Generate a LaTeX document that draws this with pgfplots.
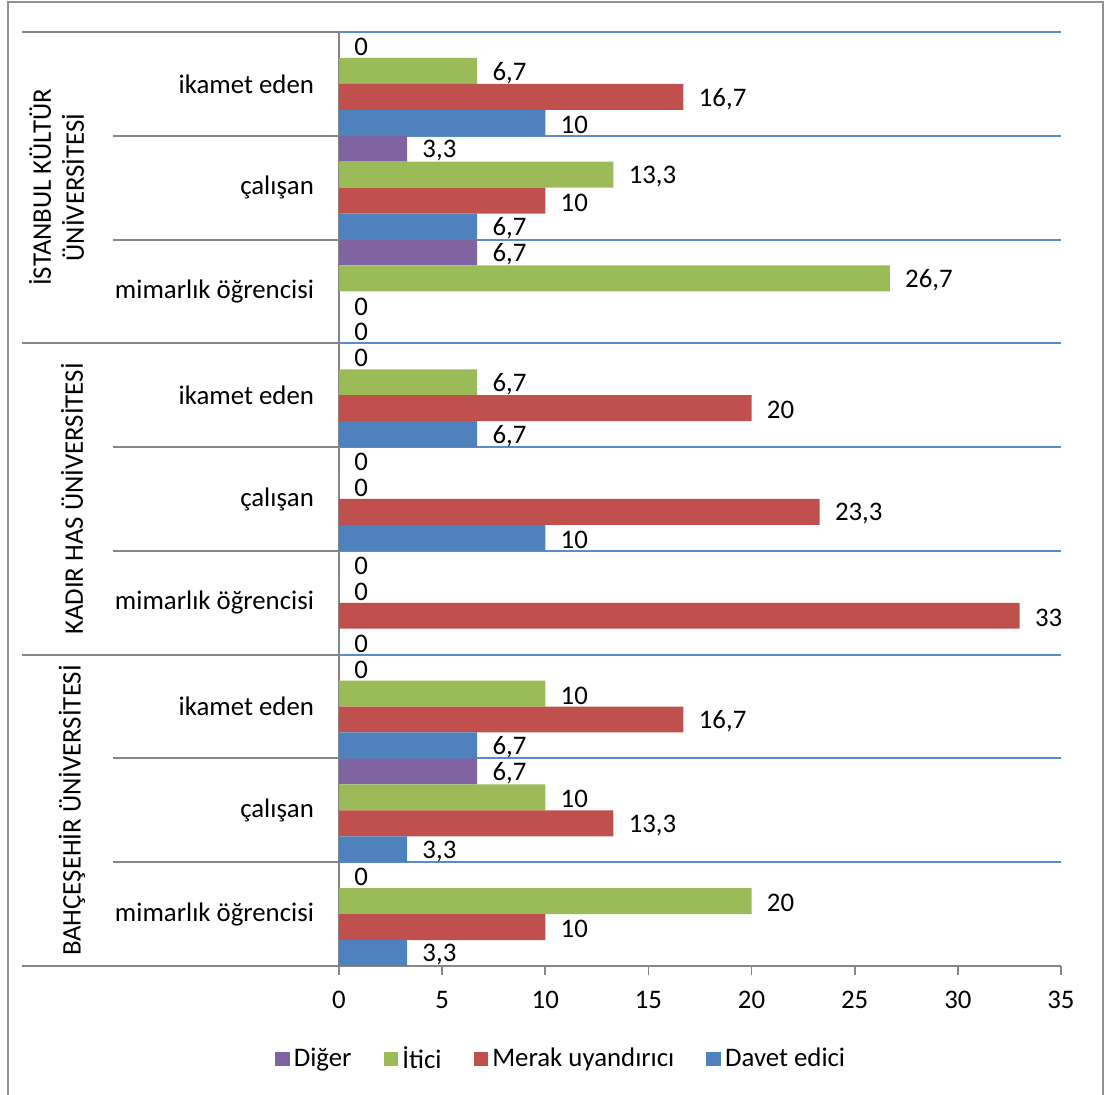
\documentclass[border=0pt]{standalone}
\usepackage{pgfplots}
\pgfplotsset{compat=1.18}
\usepackage{fontspec}
\setmainfont{Carlito}
\definecolor{cDav}{HTML}{4F81BD}
\definecolor{cMer}{HTML}{C0504D}
\definecolor{cIti}{HTML}{9BBB59}
\definecolor{cDig}{HTML}{8064A2}
\definecolor{cGrid}{HTML}{5B8BC8}
\definecolor{cAx}{HTML}{868686}
\newcommand{\cf}{\fontsize{13.4}{16.5}\selectfont}
\begin{document}
\begin{tikzpicture}
\begin{axis}[
  at={(0,0)}, anchor=south west,
  scale only axis, width=361pt, height=467pt,
  xbar, bar width=0.25,
  xmin=0, xmax=35, ymin=-0.5, ymax=8.5,
  axis x line=bottom, axis y line=left,
  axis line style={cAx, line width=1pt, -},
  x axis line style={-}, y axis line style={-},
  xtick={0,5,...,35},
  tick align=outside,
  major tick length=4.5pt,
  every tick/.style={cAx, line width=0.8pt},
  ytick={0,...,8},
  y tick style={draw=none},
  yticklabels={mimarlık öğrencisi, çalışan, ikamet eden, mimarlık öğrencisi, çalışan, ikamet eden, mimarlık öğrencisi, çalışan, ikamet eden},
  minor ytick={-0.5,0.5,...,8.5},
  minor y tick style={draw=none},
  yminorgrids=true,
  minor grid style={cGrid, line width=1pt},
  ticklabel style={font=\cf},
  yticklabel style={xshift=-4.5pt},
  xticklabel style={yshift=-4.5pt},
  /pgf/number format/assume math mode=true,
  /pgf/number format/use comma,
  nodes near coords,
  nodes near coords style={font=\cf, black, anchor=west, inner sep=0pt, xshift=7.5pt, yshift=-1pt},
  clip=false,
  legend columns=4,
  legend style={at={(0.309,-0.0995)}, anchor=center, draw=none, fill=none, font=\cf,
    /tikz/every even column/.append style={column sep=14pt},
    inner sep=0pt},
  legend image code/.code={\fill[#1] (0pt,-3.7pt) rectangle (7.4pt,3.7pt);},
]
\addplot[fill=cDig, draw=none, bar shift=0.375] coordinates {
(0,0) (6.7,1) (0,2) (0,3) (0,4) (0,5) (6.7,6) (3.3,7) (0,8)};
\addplot[fill=cIti, draw=none, bar shift=0.125] coordinates {
(20,0) (10,1) (10,2) (0,3) (0,4) (6.7,5) (26.7,6) (13.3,7) (6.7,8)};
\addplot[fill=cMer, draw=none, bar shift=-0.125] coordinates {
(10,0) (13.3,1) (16.7,2) (33,3) (23.3,4) (20,5) (0,6) (10,7) (16.7,8)};
\addplot[fill=cDav, draw=none, bar shift=-0.375] coordinates {
(3.3,0) (3.3,1) (6.7,2) (0,3) (10,4) (6.7,5) (0,6) (6.7,7) (10,8)};
\legend{Diğer, İtici, Merak uyandırıcı, Davet edici}
\end{axis}
% category separators
\foreach \k in {0,3,6,9} {\draw[cAx, line width=1pt] (-158.5pt,\k*51.8889pt) -- (0pt,\k*51.8889pt);}
\foreach \k in {1,2,4,5,7,8} {\draw[cAx, line width=1pt] (-113pt,\k*51.8889pt) -- (0pt,\k*51.8889pt);}
% group labels
\node[font=\cf, rotate=90, align=center, inner sep=0pt] at (-141.25pt,389.25pt) {İSTANBUL KÜLTÜR\\ÜNİVERSİTESİ};
\node[font=\cf, rotate=90, inner sep=0pt] at (-133.5pt,233.5pt) {KADIR HAS ÜNİVERSİTESİ};
\node[font=\cf, rotate=90, inner sep=0pt] at (-133.5pt,77.75pt) {BAHÇEŞEHİR ÜNİVERSİTESİ};
% outer border
\draw[cAx!90, line width=1.2pt] (-165.5pt,-80pt) rectangle (382pt,482pt);
\pgfresetboundingbox
\useasboundingbox (-169.5pt,-64.5pt) rectangle (383pt,483pt);
\end{tikzpicture}
\end{document}
